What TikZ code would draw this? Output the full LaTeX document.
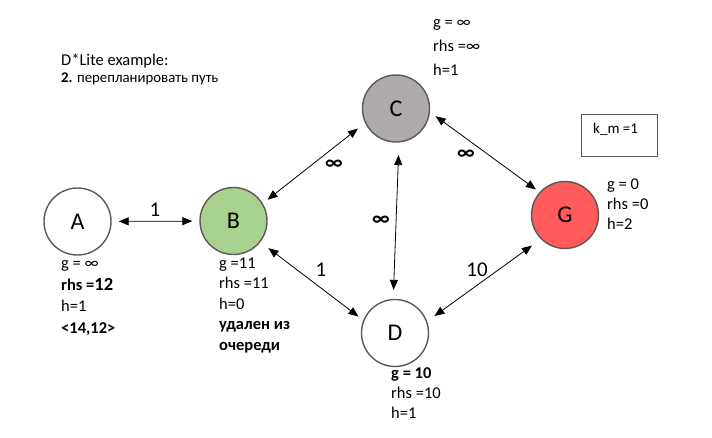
\documentclass[tikz,border=0pt]{standalone}
\usepackage{fontspec}
\setmainfont{Carlito}
\usetikzlibrary{arrows.meta}
\definecolor{ringgray}{HTML}{595959}
\definecolor{nodeB}{HTML}{A9D18E}
\definecolor{nodeC}{HTML}{AEAAAA}
\definecolor{nodeG}{HTML}{FF5B5B}

\begin{document}
\begin{tikzpicture}[x=1pt, y=-1pt,
    vertex/.style={circle, draw=ringgray, line width=1.4pt, minimum size=67pt,
        inner sep=0pt, font=\fontsize{24}{24}\selectfont},
    link/.style={{Triangle[length=10pt,width=8pt]}-{Triangle[length=10pt,width=8pt]},
        line width=0.8pt, shorten <=7pt, shorten >=7pt},
    weight/.style={font=\fontsize{21}{21}\selectfont},
    info/.style={anchor=base west, align=left, inner sep=0pt,
        font=\fontsize{16.5}{20.5}\selectfont}]
    \useasboundingbox (0,0) rectangle (712,437);

    % title
    \node[anchor=base west, inner sep=0pt, font=\fontsize{16.5}{16.5}\selectfont] (title) at (61,65) {D*Lite example:};
    \node[anchor=base west, inner sep=0pt, font=\fontsize{14.8}{14.8}\selectfont] (step) at (61,82) {\textbf{2.} перепланировать путь};

    % vertices
    \node[vertex] (A) at (77.5,221.5) {A};
    \node[vertex, fill=nodeB] (B) at (233.5,221) {B};
    \node[vertex, fill=nodeC] (C) at (396,108.5) {C};
    \node[vertex] (D) at (395,333) {D};
    \node[vertex, fill=nodeG] (G) at (565,215) {G};

    % edges
    \draw[link] (A) -- (B);
    \draw[link, shorten <=6pt, shorten >=9pt] (B.31) -- (C.205);
    \draw[link, shorten <=10pt, shorten >=6pt] (B.322) -- (D.158);
    \draw[link, shorten <=12.5pt, shorten >=9pt] (C.275) -- (D.93);
    \draw[link, shorten <=7pt, shorten >=4.5pt] (C.354) -- (G.138);
    \draw[link, shorten <=9pt, shorten >=11pt] (D.20) -- (G.225);

    \node[weight] (wAB) at (155,210) {1};
    \node[weight] (wBC) at (334,165) {\textbf{∞}};
    \node[weight] (wBD) at (321,270) {1};
    \node[weight] (wCD) at (381,221) {\textbf{∞}};
    \node[weight] (wCG) at (466,155) {\textbf{∞}};
    \node[weight] (wDG) at (477,270) {10};

    % vertex values (anchored at the last line)
    \node[info, font=\fontsize{16.5}{21.5}\selectfont] (infoA) at (61,333) {g = ∞\\ \textbf{rhs =}{\fontsize{18.5}{21.5}\selectfont\textbf{12}}\\ h=1\\ \textbf{<14,12>}};
    \node[info] (infoB) at (219,350) {g =11\\ rhs =11\\ h=0\\ \textbf{удален из}\\ \textbf{очереди}};
    \node[info, font=\fontsize{16.5}{24}\selectfont] (infoC) at (433,75) {g = ∞\\ rhs =∞\\ h=1};
    \node[info, font=\fontsize{16.5}{20}\selectfont] (infoD) at (391,418) {\textbf{g = 10}\\ rhs =10\\ h=1};
    \node[info, font=\fontsize{16.5}{20}\selectfont] (infoG) at (607,229) {g = 0\\ rhs =0\\ h=2};

    % k_m box
    \draw[ringgray, line width=0.8pt] (581,114) rectangle (657,156);
    \node[info, font=\fontsize{15}{15}\selectfont] (km) at (593,133) {k\_m =1};
\end{tikzpicture}
\end{document}
